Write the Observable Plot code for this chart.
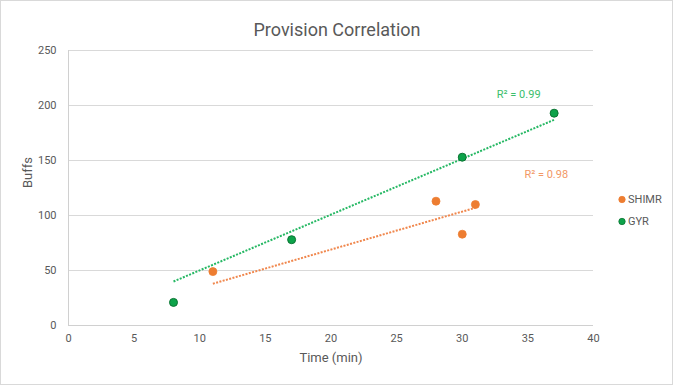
<!DOCTYPE html>
<html><head><meta charset="utf-8">
<script src="https://cdn.jsdelivr.net/npm/d3@7"></script>
<script src="https://cdn.jsdelivr.net/npm/@observablehq/plot@0.6"></script>
<style>
body{margin:0;background:#fff;}
#chart{position:relative;width:673px;height:385px;}
#chart svg{display:block;}
#border{position:absolute;left:0;top:0;width:671px;height:383px;border:1px solid #d9d9d9;pointer-events:none;}
</style></head><body><div id="chart"><div id="border"></div></div>
<script>
// ---- data ----
const seriesNames = ["SHIMR", "GYR"];
const shimrTime  = [11, 28, 30, 31];
const shimrBuffs = [49, 113, 83, 110];
const gyrTime    = [8, 17, 30, 37];
const gyrBuffs   = [21, 78, 153, 193];
// trendline endpoints as drawn in the reference
const shimrTrendTime  = [11, 31];
const shimrTrendBuffs = [38, 107];
const gyrTrendTime    = [8, 37];
const gyrTrendBuffs   = [40, 187];
// R² annotations
const r2Labels = ["R² = 0.98", "R² = 0.99"];
const r2Time   = [36.4, 34.3];
const r2Buffs  = [137, 210];
const xTicks = [0, 5, 10, 15, 20, 25, 30, 35, 40];
const yTicks = [0, 50, 100, 150, 200, 250];

// ---- styles ----
const colors = {
  SHIMR: {point: "#ED7D31", stroke: "#ED7D31", trend: "#F0874D", label: "#F29866"},
  GYR:   {point: "#0DA34A", stroke: "#0B7533", trend: "#26B864", label: "#3BBE6C"}
};

const shimr = shimrTime.map((t, i) => ({t, b: shimrBuffs[i]}));
const gyr = gyrTime.map((t, i) => ({t, b: gyrBuffs[i]}));
const shimrTrend = shimrTrendTime.map((t, i) => ({t, b: shimrTrendBuffs[i]}));
const gyrTrend = gyrTrendTime.map((t, i) => ({t, b: gyrTrendBuffs[i]}));
const r2 = r2Labels.map((s, i) => ({s, t: r2Time[i], b: r2Buffs[i], name: seriesNames[i]}));

const legendMarks = seriesNames.flatMap((name, i) => [
  Plot.dot([name], {frameAnchor: "right", dx: 28.5, dy: 11.5 + i * 22, r: 3.2,
    fill: colors[name].point, stroke: colors[name].stroke, strokeWidth: 0.8}),
  Plot.text([name], {frameAnchor: "right", dx: 34.5, dy: 11.5 + i * 22, text: d => d,
    textAnchor: "start", fontSize: 11, fill: "#595959"})
]);

const plot = Plot.plot({
  width: 673, height: 385,
  marginLeft: 68, marginRight: 80, marginTop: 50, marginBottom: 60,
  style: {fontFamily: "Roboto, 'Liberation Sans', sans-serif", fontSize: "11px", color: "#595959", background: "transparent"},
  x: {domain: [0, 40], ticks: xTicks, label: null},
  y: {domain: [0, 250], ticks: yTicks, label: null},
  marks: [
    Plot.gridY(yTicks, {stroke: "#d9d9d9", strokeOpacity: 1, strokeWidth: 1}),
    Plot.ruleX([0], {stroke: "#d0d0d0", strokeWidth: 1}),
    Plot.ruleY([0], {stroke: "#d0d0d0", strokeWidth: 1}),
    Plot.axisX(xTicks, {tickSize: 0, tickPadding: 9, label: null, fill: "#595959"}),
    Plot.axisY(yTicks, {tickSize: 0, tickPadding: 12, label: null, fill: "#595959"}),
    Plot.line(gyrTrend, {x: "t", y: "b", stroke: colors.GYR.trend, strokeWidth: 2, strokeDasharray: "2,1.4", strokeLinecap: "butt"}),
    Plot.line(shimrTrend, {x: "t", y: "b", stroke: colors.SHIMR.trend, strokeWidth: 2, strokeDasharray: "2,1.4", strokeLinecap: "butt"}),
    Plot.dot(shimr, {x: "t", y: "b", r: 4, fill: colors.SHIMR.point, stroke: colors.SHIMR.stroke, strokeWidth: 0.8}),
    Plot.dot(gyr, {x: "t", y: "b", r: 4, fill: colors.GYR.point, stroke: colors.GYR.stroke, strokeWidth: 1}),
    Plot.text(r2, {x: "t", y: "b", text: "s", fontSize: 11, fill: d => colors[d.name].label}),
    Plot.text(["Provision Correlation"], {frameAnchor: "top", dx: 6, dy: -27.5, text: d => d, fontSize: 18, fill: "#595959"}),
    Plot.text(["Time (min)"], {frameAnchor: "bottom", dy: 36, text: d => d, fontSize: 13, fill: "#595959"}),
    Plot.text(["Buffs"], {frameAnchor: "left", dx: -41, rotate: -90, text: d => d, fontSize: 13, fill: "#595959"}),
    ...legendMarks
  ]
});
document.getElementById("chart").prepend(plot);
</script>
</body></html>
